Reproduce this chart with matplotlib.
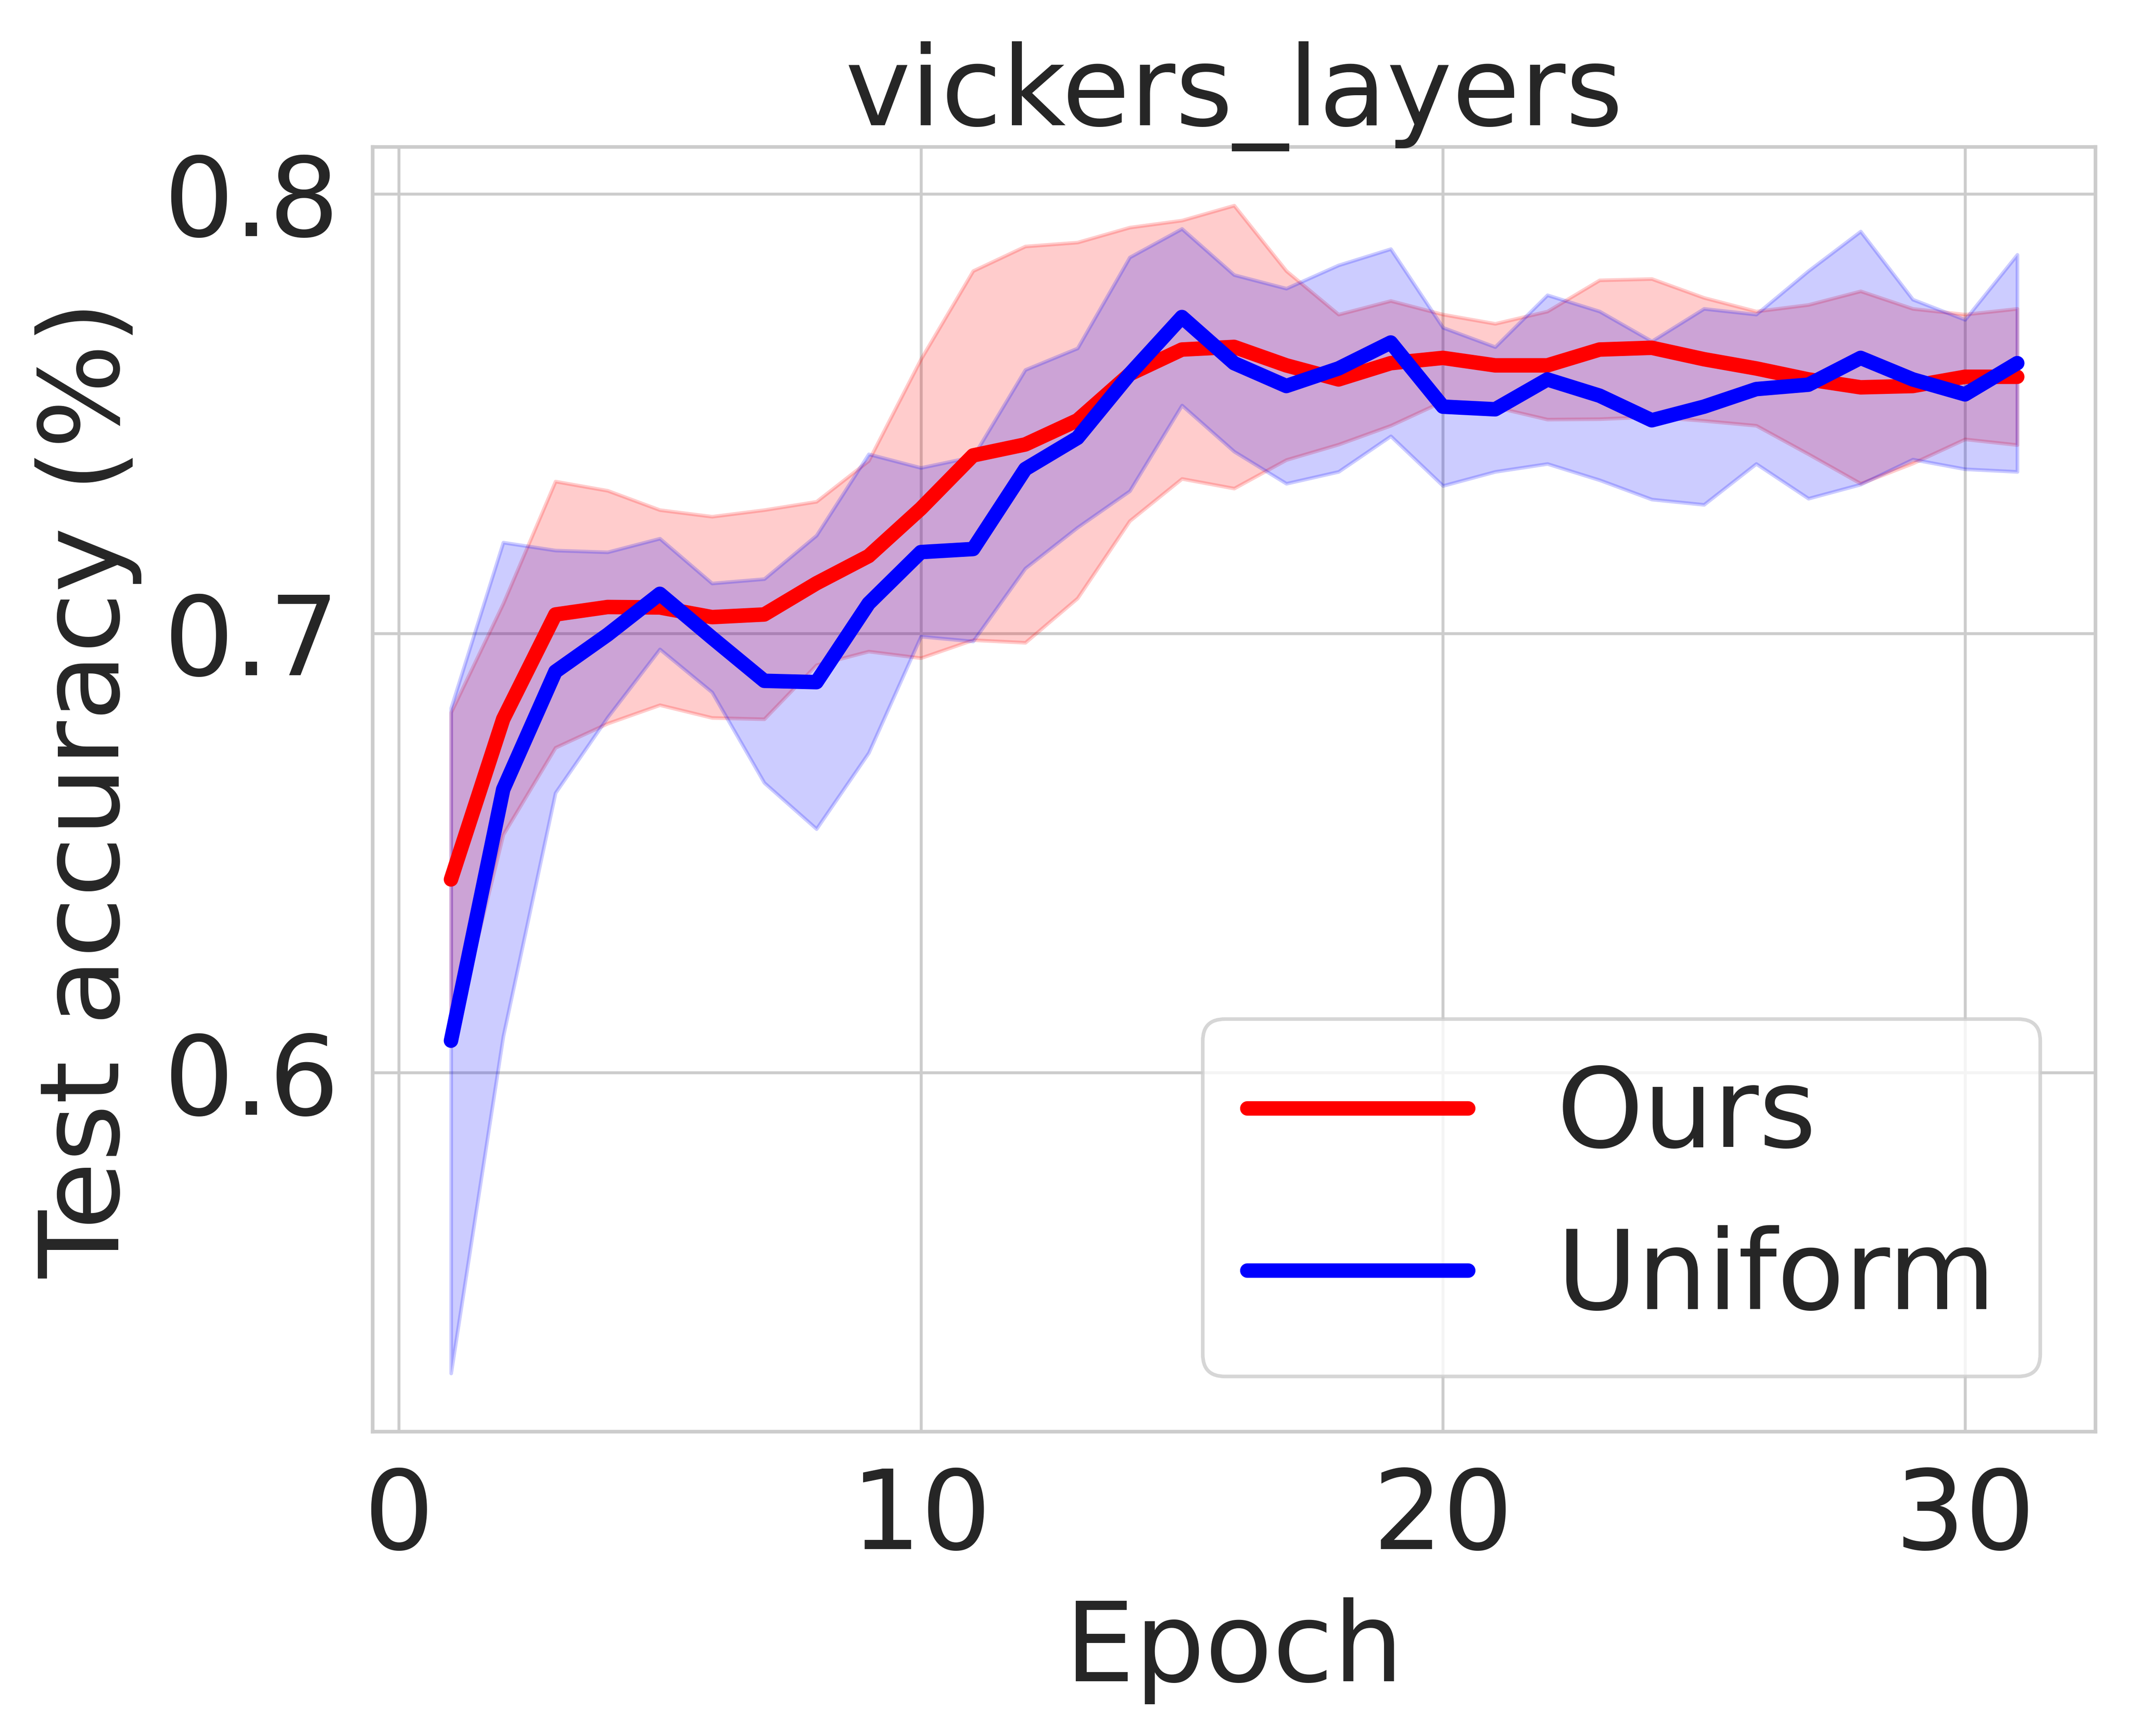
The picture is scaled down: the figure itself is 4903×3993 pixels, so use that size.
import numpy as np
import matplotlib.pyplot as plt
import seaborn as sns

sns.set_style("whitegrid")
plt.rcParams['font.family'] = ['DejaVu Sans']

# Epochs and mean/std of test accuracy
epochs = np.arange(1, 32)

ours_mean = [0.644, 0.6805, 0.7043, 0.706, 0.7059, 0.7037, 0.7043, 0.7114, 0.7176, 0.7284,
             0.7405, 0.743, 0.7485, 0.759, 0.7646, 0.7652, 0.761, 0.7578, 0.7615, 0.7627,
             0.761, 0.761, 0.7646, 0.765, 0.7624, 0.7603, 0.7578, 0.756, 0.7563, 0.7584, 0.7584]
ours_std = [0.038, 0.0263, 0.0303, 0.0265, 0.0222, 0.0229, 0.0238, 0.0186, 0.0217, 0.034,
            0.042, 0.0451, 0.0405, 0.0334, 0.0294, 0.0322, 0.0215, 0.0148, 0.0142, 0.0099,
            0.0095, 0.0123, 0.0158, 0.0157, 0.014, 0.013, 0.017, 0.0219, 0.0176, 0.0142, 0.0155]

uniform_mean = [0.6073, 0.6645, 0.6913, 0.6997, 0.709, 0.699, 0.6892, 0.6889, 0.7068, 0.7185,
                0.7192, 0.7374, 0.7445, 0.759, 0.772, 0.7615, 0.7563, 0.7603, 0.7662, 0.7516,
                0.751, 0.7578, 0.7541, 0.7485, 0.7516, 0.7556, 0.7566, 0.7627, 0.7578, 0.7544, 0.7615]
uniform_std = [0.0757, 0.0562, 0.0276, 0.0188, 0.0126, 0.0124, 0.0232, 0.0334, 0.034, 0.0192,
               0.021, 0.0226, 0.0204, 0.0266, 0.0201, 0.0201, 0.0222, 0.0235, 0.0213, 0.018,
               0.0142, 0.0192, 0.0192, 0.018, 0.0223, 0.017, 0.0259, 0.0288, 0.0182, 0.017, 0.0247]

series = [("Ours", ours_mean, ours_std, "red"),
          ("Uniform", uniform_mean, uniform_std, "blue")]

FS = 30.5

fig = plt.figure(figsize=(4903 / 600, 3993 / 600), dpi=600)
ax = fig.add_axes([0.1748, 0.1753, 0.8081, 0.7400])

for name, mean, std, color in series:
    mean = np.array(mean)
    std = np.array(std)
    ax.plot(epochs, mean, color=color, lw=4, label=name)
    ax.fill_between(epochs, mean - std, mean + std, color=color, alpha=0.2, linewidth=1.0)

ax.set_title("vickers_layers", fontsize=FS)
ax.set_xlabel("Epoch", fontsize=FS, labelpad=7)
ax.set_ylabel("Test accuracy (%)", fontsize=FS, labelpad=6)
ax.set_yticks([0.6, 0.7, 0.8])
ax.tick_params(labelsize=FS, pad=5.7)
for s in ax.spines.values():
    s.set_linewidth(1.0)
ax.grid(lw=0.8)
ax.legend(loc="lower right", fontsize=FS)

fig.savefig("out.png", dpi=600)
